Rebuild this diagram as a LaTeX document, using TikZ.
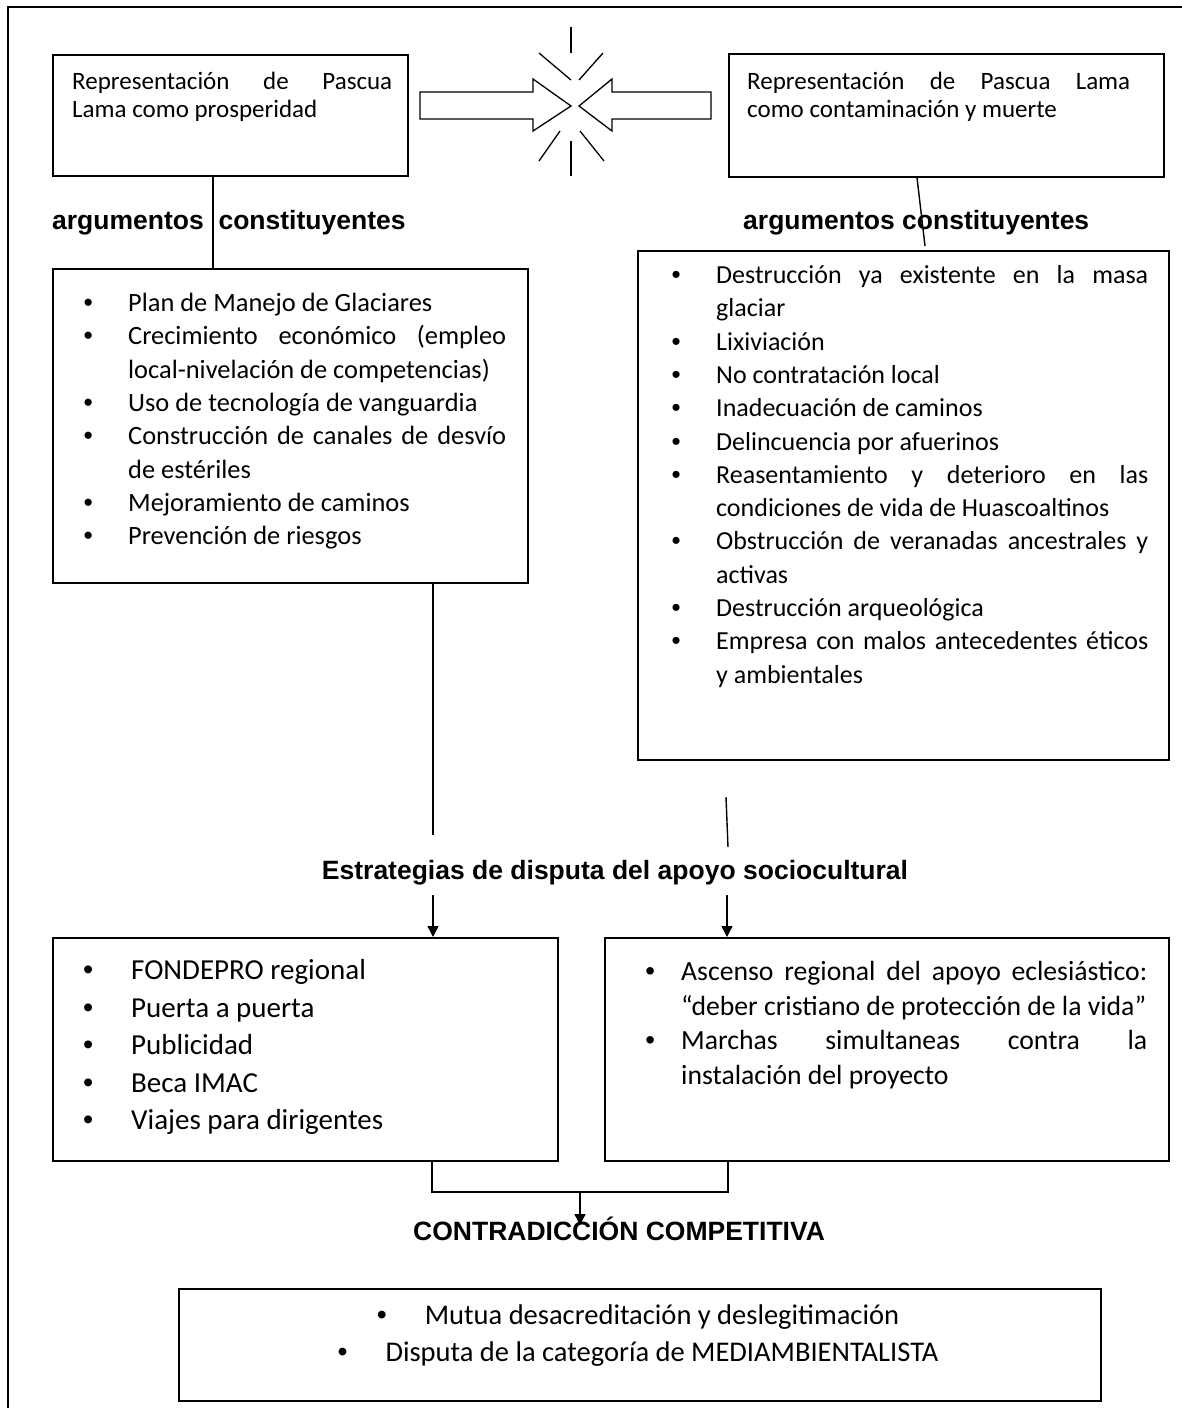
\documentclass[tikz,border=0pt]{standalone}
\usepackage{fontspec}
\setmainfont{Carlito}
\newfontfamily\headfont{Liberation Sans}
\usetikzlibrary{arrows.meta,calc}
\newcommand\bul{{\headfont\char"2022}}
% \li{2*bullet centre offset}{text offset}{text}
\newcommand\li[3]{\par\noindent\hangindent=#2\hangafter=1\makebox[#2][l]{\makebox[#1][c]{\bul}}\rule{0pt}{24pt}#3\par}
\newcommand\fTop{\fontsize{25}{28}\selectfont}
\newcommand\fListL{\fontsize{26.4}{33.3}\selectfont}
\newcommand\fList{\fontsize{26}{33.3}\selectfont}
\newcommand\fStratL{\fontsize{29}{37.5}\selectfont}
\newcommand\fStratR{\fontsize{27.7}{34.5}\selectfont}
\newcommand\fFinal{\fontsize{28.5}{37}\selectfont}
\newcommand\fHead{\headfont\bfseries\fontsize{26.5}{30}\selectfont}
\begin{document}
\begin{tikzpicture}[x=1pt,y=-1pt,
  conn/.style={line width=1.4pt},
  bx/.style={draw, line width=1.6pt, inner sep=0pt, anchor=north west},
  txt/.style={inner sep=0pt, anchor=north west, align=justify},
  hd/.style={inner sep=0pt, font=\fHead},
  arrw/.style={line width=1.4pt, -{Triangle[length=11pt,width=11pt]}},
  burst/.style={line width=1.3pt}]
\useasboundingbox (0,0) rectangle (1182,1408);
\fill[white] (0,0) rectangle (1182,1408);
% outer frame
\draw[conn] (8,1408) -- (8,7) -- (1182,7);

% top boxes
\node[bx, minimum width=355pt, minimum height=121pt] (tl) at (52,54) {};
\node[bx, minimum width=435pt, minimum height=123pt] (tr) at (728,53) {};
\node[txt, text width=320pt, font=\fTop] (tlt) at (72,69)
  {\tolerance=10000\hyphenpenalty=10000\rule{0pt}{20pt}Representación de Pascua\linebreak Lama como prosperidad};
\node[txt, text width=383pt, font=\fTop] (trt) at (747,69)
  {\tolerance=10000\hyphenpenalty=10000\rule{0pt}{20pt}Representación de Pascua Lama\linebreak como contaminación y muerte};

% hollow arrows and burst
\draw[line width=1.3pt, line join=miter] (420,92) -- (533,92) -- (533,79) -- (571,106) -- (533,131) -- (533,119) -- (420,119) -- cycle;
\draw[line width=1.3pt, line join=miter] (711,92) -- (612,92) -- (612,79) -- (579,106) -- (612,131) -- (612,119) -- (711,119) -- cycle;
\draw[burst] (571,27) -- (571,53);
\draw[burst] (539,53) -- (571,80);
\draw[burst] (603,53) -- (579,80);
\draw[burst] (560,131) -- (539,161);
\draw[burst] (571,141) -- (571,176);
\draw[burst] (580,131) -- (604,161);

% headings
\node[hd, anchor=base west] (h1) at (52,229) {argumentos\ \ constituyentes};
\node[hd, anchor=base west] (h2) at (743,229) {argumentos constituyentes};

% argument lists
\node[bx, minimum width=475pt, minimum height=314pt] (ll) at (52,268) {};
\node[txt, text width=454pt, font=\fListL] (llt) at (52,278) {\tolerance=10000\hyphenpenalty=10000\exhyphenpenalty=10000
\li{72pt}{76pt}{Plan de Manejo de Glaciares}
\li{72pt}{76pt}{Crecimiento económico (empleo\linebreak local-nivelación de competencias)}
\li{72pt}{76pt}{Uso de tecnología de vanguardia}
\li{72pt}{76pt}{Construcción de canales de desvío\linebreak de estériles}
\li{72pt}{76pt}{Mejoramiento de caminos}
\li{72pt}{76pt}{Prevención de riesgos}};

\node[bx, minimum width=531pt, minimum height=509pt] (rl) at (637,250) {};
\node[txt, text width=511pt, font=\fList] (rlt) at (637,250) {\tolerance=10000\hyphenpenalty=10000\exhyphenpenalty=10000
\li{78pt}{79pt}{Destrucción ya existente en la masa\linebreak glaciar}
\li{78pt}{79pt}{Lixiviación}
\li{78pt}{79pt}{No contratación local}
\li{78pt}{79pt}{Inadecuación de caminos}
\li{78pt}{79pt}{Delincuencia por afuerinos}
\li{78pt}{79pt}{Reasentamiento y deterioro en las\linebreak condiciones de vida de Huascoaltinos}
\li{78pt}{79pt}{Obstrucción de veranadas ancestrales y\linebreak activas}
\li{78pt}{79pt}{Destrucción arqueológica}
\li{78pt}{79pt}{Empresa con malos antecedentes éticos\linebreak y ambientales}};

% connectors top
\coordinate (c1) at (213,0);
\draw[conn] (tl.south -| c1) -- (ll.north -| c1);
\coordinate (c2) at (917,0);
\coordinate (e2) at (925,246);
\draw[conn] (tr.south -| c2) -- (e2);

% strategies heading
\node[hd, anchor=base] (h3) at (615,879) {Estrategias de disputa del apoyo sociocultural};
\coordinate (c3) at (433,835);
\draw[conn] (ll.south -| c3) -- (c3);
\coordinate (r1) at (726,797);
\coordinate (r2) at (728,847);
\draw[conn] (r1) -- (r2);

% strategy boxes
\node[bx, minimum width=505pt, minimum height=223pt] (ls) at (52,937) {};
\node[bx, minimum width=564pt, minimum height=223pt] (rs) at (604,937) {};
\coordinate (a1) at (433,895);
\coordinate (a2) at (727,895);
\draw[arrw] (a1) -- (ls.north -| a1);
\draw[arrw] (a2) -- (rs.north -| a2);

\node[txt, text width=480pt, font=\fStratL] (lst) at (52,942) {\tolerance=10000\hyphenpenalty=10000
\li{72pt}{79pt}{FONDEPRO regional}
\li{72pt}{79pt}{Puerta a puerta}
\li{72pt}{79pt}{Publicidad}
\li{72pt}{79pt}{Beca IMAC}
\li{72pt}{79pt}{Viajes para dirigentes}};

\node[txt, text width=543pt, font=\fStratR] (rst) at (604,946) {\tolerance=10000\hyphenpenalty=10000
\li{92pt}{77pt}{Ascenso regional del apoyo eclesiástico:\linebreak “deber cristiano de protección de la vida”}
\li{92pt}{77pt}{Marchas simultaneas contra la\linebreak instalación del proyecto}};

% bracket and final arrow
\coordinate (k1) at (432,1192);
\coordinate (k2) at (728,1192);
\draw[conn] (ls.south -| k1) -- (k1) -- (k2) -- (rs.south -| k2);
\node[hd, anchor=base west] (h4) at (413,1240) {CONTRADICCIÓN COMPETITIVA};
\coordinate (k3) at (580,1192);
\coordinate (k4) at (580,1225);
\draw[arrw] (k3) -- (k4);

% final box
\node[bx, minimum width=922pt, minimum height=112pt] (fb) at (178,1288) {};
\node[inner sep=0pt, anchor=north, align=center, font=\fFinal] (fbt) at (638,1298)
  {\rule{0pt}{26pt}\makebox[48pt][l]{\bul}Mutua desacreditación y deslegitimación\\
   \makebox[48pt][l]{\bul}Disputa de la categoría de MEDIAMBIENTALISTA};
\end{tikzpicture}
\end{document}
